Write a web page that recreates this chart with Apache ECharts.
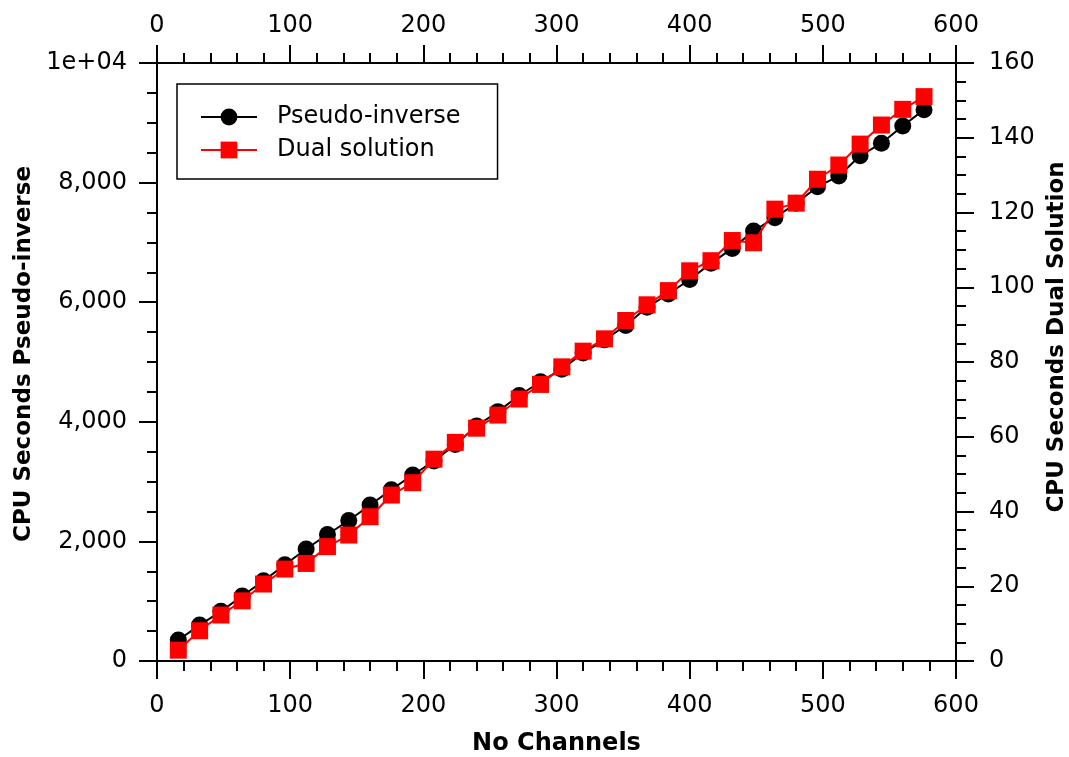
<!DOCTYPE html>
<html>
<head>
<meta charset="utf-8">
<script src="https://cdn.jsdelivr.net/npm/echarts@6/dist/echarts.min.js"></script>
<style>
html,body{margin:0;padding:0;background:#fff;}
#chart{width:1069px;height:757px;}
</style>
</head>
<body>
<div id="chart"></div>
<script>
const channels = [16,32,48,64,80,96,112,128,144,160,176,192,208,224,240,256,272,288,304,320,336,352,368,384,400,416,432,448,464,480,496,512,528,544,560,576];
const pseudoInverse = [351,600,830,1087,1340,1610,1873,2115,2350,2609,2865,3110,3345,3620,3930,4170,4440,4670,4880,5150,5370,5610,5914,6137,6380,6650,6900,7191,7413,7654,7932,8110,8450,8657,8946,9220];
const dualSolution = [2.9,8.1,12.3,16.1,20.6,24.6,26.1,30.6,33.7,38.6,44.4,47.7,54.0,58.5,62.3,65.8,70.1,74.0,78.7,82.9,86.2,91.1,95.3,99.1,104.4,107.1,112.5,111.9,120.9,122.5,128.9,132.7,138.3,143.4,147.6,151.0];
const seriesNames = ['Pseudo-inverse','Dual solution'];
const xTitle = 'No Channels';
const yLeftTitle = 'CPU Seconds Pseudo-inverse';
const yRightTitle = 'CPU Seconds Dual Solution';

const FONT = 'DejaVu Sans';
const axisLine = {show:true, onZero:false, lineStyle:{color:'#000', width:2}};
const axisTick = {show:true, inside:false, length:18, lineStyle:{color:'#000', width:2}};
const minorTick = (n)=>({show:true, splitNumber:n, length:10, lineStyle:{color:'#000', width:2}});
const labelStyle = {color:'#000', fontFamily:FONT, fontSize:24};
const nameStyle = {color:'#000', fontFamily:FONT, fontSize:23, fontWeight:'bold'};

const chart = echarts.init(document.getElementById('chart'));
chart.setOption({
  backgroundColor:'#fff',
  animation:false,
  grid:{left:157, right:113, top:63, bottom:96, containLabel:false, outerBoundsMode:'none'},
  legend:{
    left:177, top:84, orient:'vertical',
    data:seriesNames,
    borderColor:'#000', borderWidth:1.5, borderRadius:0,
    padding:[21,37,17,23],
    itemWidth:56, itemHeight:21, itemGap:9,
    textStyle:{color:'#000', fontFamily:FONT, fontSize:24, padding:[0,0,0,15]}
  },
  xAxis:[
    {type:'value', position:'bottom', min:0, max:600, interval:100,
     name:xTitle, nameLocation:'middle', nameGap:71, nameTextStyle:Object.assign({}, nameStyle, {fontSize:24}),
     axisLine, axisTick, minorTick:minorTick(5), splitLine:{show:false},
     axisLabel:Object.assign({margin:33}, labelStyle)},
    {type:'value', position:'top', min:0, max:600, interval:100,
     axisLine, axisTick, minorTick:minorTick(5), splitLine:{show:false},
     axisLabel:Object.assign({margin:25}, labelStyle)}
  ],
  yAxis:[
    {type:'value', position:'left', min:0, max:10000, interval:2000,
     name:yLeftTitle, nameLocation:'middle', nameGap:121,
     nameTextStyle:Object.assign({padding:[0,0,0,16]}, nameStyle),
     axisLine, axisTick, minorTick:minorTick(4), splitLine:{show:false},
     axisLabel:Object.assign({margin:30, formatter:(v)=> v===10000 ? '1e+04' : v.toLocaleString('en-US')}, labelStyle)},
    {type:'value', position:'right', min:0, max:160, interval:20,
     name:yRightTitle, nameLocation:'middle', nameGap:87, nameRotate:90,
     nameTextStyle:Object.assign({padding:[0,0,0,50]}, nameStyle),
     axisLine, axisTick, minorTick:minorTick(4), splitLine:{show:false},
     axisLabel:Object.assign({margin:33}, labelStyle)}
  ],
  series:[
    {name:seriesNames[0], type:'line', xAxisIndex:0, yAxisIndex:0,
     data:channels.map((c,i)=>[c,pseudoInverse[i]]),
     symbol:'circle', symbolSize:17, showAllSymbol:true,
     itemStyle:{color:'#000'}, lineStyle:{color:'#000', width:2}, z:2},
    {name:seriesNames[1], type:'line', xAxisIndex:0, yAxisIndex:1,
     data:channels.map((c,i)=>[c,dualSolution[i]]),
     symbol:'rect', symbolSize:17, showAllSymbol:true,
     itemStyle:{color:'#ff0000'}, lineStyle:{color:'#ff0000', width:2}, z:3}
  ]
});
</script>
</body>
</html>
